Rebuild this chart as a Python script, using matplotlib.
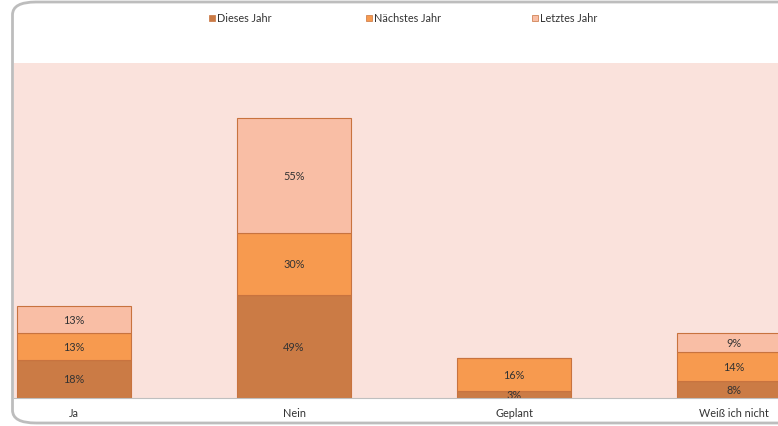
import matplotlib
matplotlib.use("Agg")
import matplotlib.pyplot as plt
from matplotlib.patches import FancyBboxPatch, Rectangle

categories = ["Ja", "Nein", "Geplant", "Weiß ich nicht"]
series_names = ["Dieses Jahr", "Nächstes Jahr", "Letztes Jahr"]
dieses_jahr = [18, 49, 3, 8]
naechstes_jahr = [13, 30, 16, 14]
letztes_jahr = [13, 55, 0, 9]
series_values = [dieses_jahr, naechstes_jahr, letztes_jahr]
colors = ["#CB7B45", "#F79A4F", "#F9BEA5"]

plt.rcParams['font.family'] = ['Lato', 'DejaVu Sans']

W, H = 778, 427
fig = plt.figure(figsize=(W / 100, H / 100), dpi=100)

ax = fig.add_axes([13.5 / W, 28.3 / H, (W - 13.5) / W, (398 - 63) / H])
ax.set_facecolor("#FAE2DC")
x = list(range(len(categories)))
bottoms = [0] * len(categories)
for vals, col in zip(series_values, colors):
    ax.bar(x, vals, bottom=bottoms, width=0.514, color=col,
           edgecolor="#C8733F", linewidth=0.8, zorder=2)
    for xi, v, b in zip(x, vals, bottoms):
        if v > 0:
            ax.text(xi, b + v / 2, f"{v}%", ha="center", va="center",
                    fontsize=7.8, color="#333333", zorder=3, clip_on=True)
    bottoms = [b + v for b, v in zip(bottoms, vals)]

ax.set_xlim((13.5 - 74) / 220, (W - 74) / 220)
ax.set_ylim(0, (398 - 63) / 2.0896)
ax.set_xticks(x)
ax.set_xticklabels(categories, fontsize=7.8, color="#333333")
ax.tick_params(axis="x", length=0, pad=7)
ax.set_yticks([])
for s in ["top", "right", "left"]:
    ax.spines[s].set_visible(False)
ax.spines["bottom"].set_color("#BFBFBF")
ax.spines["bottom"].set_linewidth(0.8)

# outer rounded border
border = FancyBboxPatch((12.5 / W, 3 / H), 900 / W, 421 / H,
                        boxstyle="round,pad=0,rounding_size=0.03",
                        transform=fig.transFigure, facecolor="none",
                        edgecolor="#BDBDBD", linewidth=2, zorder=5)
fig.patches.append(border)

# legend at top
leg_x = [209, 366, 532]
for name, col, lx in zip(series_names, colors, leg_x):
    fig.patches.append(Rectangle((lx / W, (H - 22) / H), 6 / W, 6 / H,
                                 transform=fig.transFigure, facecolor=col,
                                 edgecolor="#C8733F", linewidth=0.5))
    fig.text((lx + 8) / W, (H - 18.5) / H, name, fontsize=7.8,
             color="#333333", va="center", ha="left")

fig.savefig("out.png", dpi=100)
